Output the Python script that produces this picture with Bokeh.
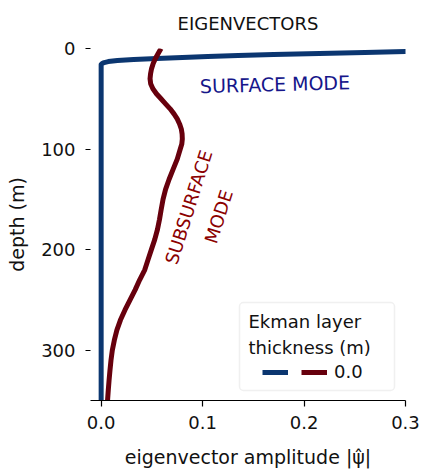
from bokeh.plotting import figure
from bokeh.models import (Range1d, FixedTicker, Label, Legend, LegendItem,
                          BoxAnnotation)
from bokeh.embed import file_html
from bokeh.resources import INLINE

# Eigenvector amplitude profiles against depth (m)
surface_depth = [0, 1, 2, 3, 4, 5, 6, 7, 8, 9, 10, 11, 12, 13, 14, 15, 16,
                 20, 50, 100, 150, 200, 250, 300, 350]
surface_amp = [0.40, 0.36, 0.33, 0.30, 0.26, 0.215, 0.17, 0.135, 0.105, 0.08,
               0.055, 0.032, 0.016, 0.007, 0.003, 0.001, 0.0,
               0.0, 0.0, 0.0, 0.0, 0.0, 0.0, 0.0, 0.0]

subsurface_depth = [0, 5, 10, 15, 20, 25, 30, 35, 40, 45, 50, 55, 60, 65, 70,
                    75, 80, 85, 90, 95, 100, 110, 120, 130, 140, 150, 160,
                    170, 180, 190, 200, 210, 220, 230, 240, 250, 260, 270,
                    280, 290, 300, 310, 320, 330, 340, 350]
subsurface_amp = [0.059, 0.0562, 0.0535, 0.0513, 0.0497, 0.0487, 0.0482,
                  0.0488, 0.051, 0.0545, 0.059, 0.0635, 0.068, 0.0718, 0.075,
                  0.0773, 0.079, 0.0798, 0.080, 0.0795, 0.078, 0.075, 0.071,
                  0.067, 0.0635, 0.061, 0.0592, 0.0575, 0.0555, 0.0528,
                  0.0495, 0.0462, 0.043, 0.038, 0.0335, 0.0285, 0.0235,
                  0.019, 0.0155, 0.013, 0.011, 0.0097, 0.0087, 0.0078,
                  0.007, 0.0063]

x_ticks = [0.0, 0.1, 0.2, 0.3]
x_tick_labels = ["0.0", "0.1", "0.2", "0.3"]
y_ticks = [0, 100, 200, 300]
ekman_thickness = "0.0"

FONT = "DejaVu Sans"
BLUE = "#0b3670"
RED = "#67000d"
INK = "#111111"

p = figure(width=423, height=472, output_backend="svg", toolbar_location=None,
           x_range=Range1d(-0.0105, 0.3), y_range=Range1d(350, 0),
           min_border_left=90, min_border_right=18,
           min_border_top=47, min_border_bottom=72)

p.title.text = "EIGENVECTORS"
p.title.align = "center"
p.title.vertical_align = "top"
p.title.text_font = FONT
p.title.text_font_size = "18px"
p.title.text_font_style = "normal"
p.title.text_color = INK
p.title.standoff = 25

p.grid.visible = False
p.outline_line_color = None
p.background_fill_color = "white"
p.border_fill_color = "white"

# x axis
xa = p.xaxis[0]
xa.ticker = FixedTicker(ticks=x_ticks)
xa.major_label_overrides = {t: s for t, s in zip(x_ticks, x_tick_labels)}
xa.minor_tick_line_color = None
xa.major_tick_in = 0
xa.major_tick_out = 6
xa.major_tick_line_width = 1.2
xa.axis_line_width = 1.2
xa.major_label_standoff = 9
xa.major_label_text_font = FONT
xa.major_label_text_font_size = "18px"
xa.major_label_text_color = INK
xa.axis_label = "eigenvector amplitude |\u03c8\u0302|"
xa.axis_label_text_font = FONT
xa.axis_label_text_font_size = "19px"
xa.axis_label_text_font_style = "normal"
xa.axis_label_text_color = INK
xa.axis_label_standoff = 14

# y axis (no spine, ticks only)
ya = p.yaxis[0]
ya.ticker = FixedTicker(ticks=y_ticks)
ya.minor_tick_line_color = None
ya.axis_line_color = None
ya.major_tick_in = 0
ya.major_tick_out = 5
ya.major_tick_line_width = 1.2
ya.major_label_standoff = 10
ya.major_label_text_font = FONT
ya.major_label_text_font_size = "18px"
ya.major_label_text_color = INK
ya.axis_label = "depth (m)"
ya.axis_label_text_font = FONT
ya.axis_label_text_font_size = "19px"
ya.axis_label_text_font_style = "normal"
ya.axis_label_text_color = INK
ya.axis_label_standoff = 10

# profiles
r_surf = p.line(surface_amp, surface_depth, line_color=BLUE, line_width=5,
                line_join="round")
r_sub = p.line(subsurface_amp, subsurface_depth, line_color=RED, line_width=5,
               line_join="round")

# mode annotations
p.add_layout(Label(x=0.1714, y=35.5, text="SURFACE MODE", angle=1.5,
                   angle_units="deg", text_align="center",
                   text_baseline="middle", text_font=FONT,
                   text_font_size="19px", text_color="#16168a"))
p.add_layout(Label(x=0.101, y=162.5, text="SUBSURFACE\nMODE", angle=72.5,
                   angle_units="deg", text_align="center",
                   text_baseline="middle", text_font=FONT,
                   text_font_size="18px", text_color="#8b0000",
                   text_line_height=1.5))

# legend frame, title and entries
p.add_layout(BoxAnnotation(left=149, right=304, top=98, bottom=10,
                           left_units="screen", right_units="screen",
                           top_units="screen", bottom_units="screen",
                           fill_color="white", fill_alpha=0.8,
                           line_color="#cccccc", line_width=1.5,
                           border_radius=4))
p.add_layout(Label(x=158, y=90, x_units="screen", y_units="screen",
                   text="Ekman layer\nthickness (m)", text_align="left",
                   text_baseline="top", text_font=FONT, text_font_size="18px",
                   text_color=INK, text_line_height=1.25))
legend = Legend(items=[LegendItem(label="", renderers=[r_surf]),
                       LegendItem(label=ekman_thickness, renderers=[r_sub])],
                orientation="horizontal", location=(172, 18),
                border_line_alpha=0, background_fill_alpha=0,
                glyph_width=26, glyph_height=20, label_standoff=7, spacing=6,
                label_width=0, padding=0, margin=0, label_text_font=FONT,
                label_text_font_size="18px", label_text_color=INK)
p.add_layout(legend)

open("out.html", "w").write(file_html(p, INLINE))
